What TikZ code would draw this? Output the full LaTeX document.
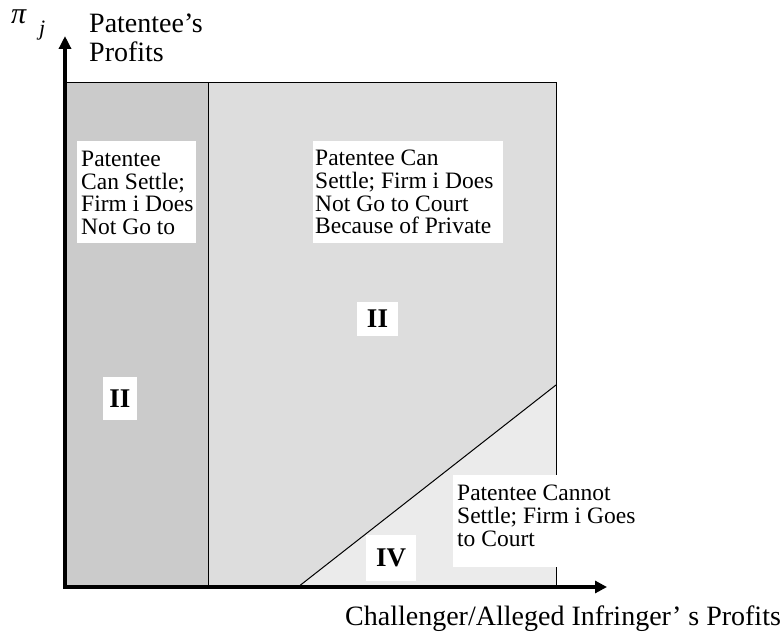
\documentclass[tikz,border=0pt]{standalone}
\usepackage{fontspec}
\setmainfont{Liberation Serif}
\usetikzlibrary{arrows.meta,positioning}
\definecolor{darkzone}{RGB}{203,203,203}
\definecolor{midzone}{RGB}{221,221,221}
\definecolor{lightzone}{RGB}{235,235,235}

\begin{document}
\begin{tikzpicture}[x=1pt,y=-1pt,
  whitebox/.style={fill=white, inner sep=0pt, anchor=north west},
  boxtext/.style={inner sep=0pt, anchor=north west, align=left, font=\fontsize{23.5}{22.7}\selectfont},
  numeral/.style={fill=white, inner sep=0pt, font=\bfseries\fontsize{27}{27}\selectfont},
  axislabel/.style={inner sep=0pt, align=left, font=\fontsize{28}{29}\selectfont}]
\useasboundingbox (0,0) rectangle (784,639);

\coordinate (O) at (65,587);
\coordinate (TL) at (65,83);
\coordinate (TR) at (556,83);
\coordinate (BR) at (556,587);
\coordinate (DT) at (208,83);
\coordinate (DB) at (208,587);
\coordinate (CutB) at (298,587);
\coordinate (CutR) at (556,385);
\coordinate (Ytip) at (65,36);
\coordinate (Xtip) at (607,587);

\fill [darkzone] (O) rectangle (DT);
\fill [midzone] (DB) -- (DT) -- (TR) -- (CutR) -- (CutB) -- cycle;
\fill [lightzone] (CutB) -- (CutR) -- (BR) -- cycle;
\draw [line width=1pt] (TL) -- (TR) -- (BR);
\draw [line width=1pt] (DT) -- (DB);
\draw [line width=1pt] (CutB) -- (CutR);
\draw [-{Triangle[length=13pt,width=12pt]}, line width=4pt] ([yshift=2pt]O) -- (Ytip);
\draw [-{Triangle[length=12pt,width=12pt]}, line width=4pt] ([xshift=-2pt]O) -- (Xtip);

\node [whitebox, minimum width=119pt, minimum height=102pt] (leftbox) at (77,141) {};
\node [boxtext] (lefttext) at ([xshift=4pt,yshift=-10pt]leftbox.north west)
  {Patentee\\Can Settle;\\Firm i Does\\Not Go to};
\node [whitebox, minimum width=190pt, minimum height=102pt] (midbox) at (313,141) {};
\node [boxtext] (midtext) at ([xshift=2pt,yshift=-9pt]midbox.north west)
  {Patentee Can\\Settle; Firm i Does\\Not Go to Court\\Because of Private};
\node [whitebox, minimum width=187pt, minimum height=92pt] (rightbox) at (453,475) {};
\node [boxtext] (righttext) at ([xshift=4pt,yshift=-10pt]rightbox.north west)
  {Patentee Cannot\\Settle; Firm i Goes\\to Court};

\node [numeral, minimum width=41pt, minimum height=34pt] (midII) at (377.5,319) {II};
\node [numeral, minimum width=34pt, minimum height=43pt] (leftII) at (120,398.5) {II};
\node [numeral, minimum width=50pt, minimum height=46pt] (IV) at (391,558) {IV};

\node [inner sep=0pt, anchor=base west, font=\itshape\fontsize{30}{30}\selectfont] (pi) at (11,24) {π};
\node [inner sep=0pt, anchor=base west, font=\itshape\fontsize{22}{22}\selectfont] (j) at (39,36) {j};
\node [axislabel, anchor=north west] (ylabel) at (89,14) {Patentee’s\\Profits};
\node [axislabel, anchor=base west] (xlabel) at (345,625) {Challenger/Alleged Infringer’ s Profits};
\end{tikzpicture}
\end{document}
